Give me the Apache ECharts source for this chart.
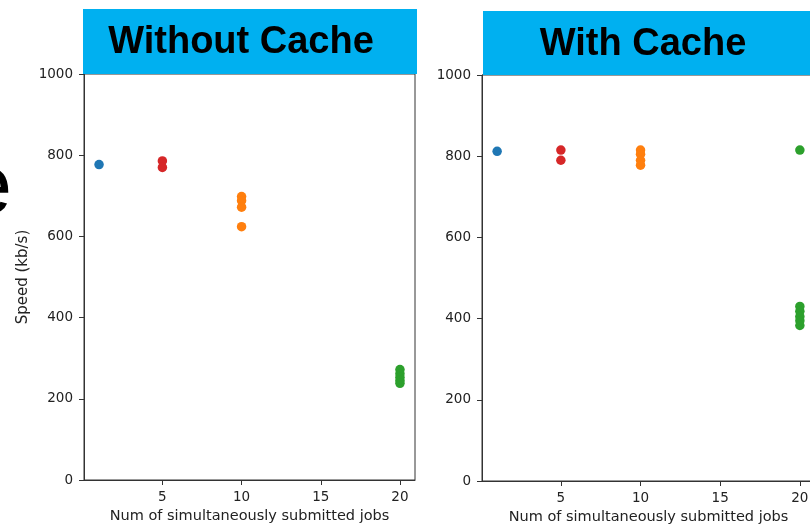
<!DOCTYPE html>
<html>
<head>
<meta charset="utf-8">
<script src="https://cdn.jsdelivr.net/npm/echarts@6/dist/echarts.min.js"></script>
<style>
  html, body { margin: 0; padding: 0; background: #fff; }
  #chart { width: 810px; height: 527px; }
</style>
</head>
<body>
<div id="chart"></div>
<script>
// speeds (kb/s) per number of simultaneously submitted jobs
const noCache1 = [777];
const noCache5 = [786, 770];
const noCache10 = [698, 688, 672, 624];
const noCache20 = [272, 262, 253, 245, 238];
const cache1 = [812];
const cache5 = [815, 790];
const cache10 = [815, 805, 790, 778];
const cache20 = [815, 430, 418, 405, 395, 383];

const xTicks = [5, 10, 15, 20];
const colors = ["#1f77b4", "#d62728", "#ff7f0e", "#2ca02c"];
const panelTitles = ["Without Cache", "With Cache"];

var chart = echarts.init(document.getElementById("chart"));

function pts(x, arr) {
  return arr.map(v => [x, v]);
}

function xAxisOf(idx) {
  return {
    type: "value",
    gridIndex: idx,
    min: 0.05,
    max: 20.95,
    name: "Num of simultaneously submitted jobs",
    nameLocation: "middle",
    nameGap: 29,
    nameTextStyle: { color: "#222", fontSize: 14.5, fontFamily: "DejaVu Sans" },
    axisLine: { show: true, onZero: false, lineStyle: { color: "#333", width: 1 } },
    axisTick: { show: true, customValues: xTicks, length: 5, lineStyle: { color: "#333" } },
    axisLabel: { customValues: xTicks, color: "#222", fontSize: 13.5, fontFamily: "DejaVu Sans", margin: 10 },
    splitLine: { show: false }
  };
}

function yAxisOf(idx, withName) {
  return {
    type: "value",
    gridIndex: idx,
    min: 0,
    max: 1000,
    interval: 200,
    name: withName ? "Speed (kb/s)" : "",
    nameLocation: "middle",
    nameGap: 53,
    nameTextStyle: { color: "#222", fontSize: 15, fontFamily: "DejaVu Sans" },
    axisLine: { show: true, onZero: false, lineStyle: { color: "#333", width: 1 } },
    axisTick: { show: true, length: 5, lineStyle: { color: "#333" } },
    axisLabel: { color: "#222", fontSize: 13.5, fontFamily: "DejaVu Sans", margin: 11,
      formatter: v => String(v) },
    splitLine: { show: false }
  };
}

function scatter(idx, data, color) {
  return {
    type: "scatter",
    xAxisIndex: idx,
    yAxisIndex: idx,
    symbolSize: 9.5,
    itemStyle: { color: color, opacity: 1 },
    data: data
  };
}

let option = {
  animation: false,
  grid: [
    { left: 84, top: 74, width: 331, height: 406, show: true, borderColor: "#333", borderWidth: 1, outerBoundsMode: "none" },
    { left: 482, top: 75, width: 333, height: 406, show: true, borderColor: "#333", borderWidth: 1, outerBoundsMode: "none" }
  ],
  xAxis: [xAxisOf(0), xAxisOf(1)],
  yAxis: [yAxisOf(0, true), yAxisOf(1, false)],
  series: [
    scatter(0, pts(1, noCache1), colors[0]),
    scatter(0, pts(5, noCache5), colors[1]),
    scatter(0, pts(10, noCache10), colors[2]),
    scatter(0, pts(20, noCache20), colors[3]),
    scatter(1, pts(1, cache1), colors[0]),
    scatter(1, pts(5, cache5), colors[1]),
    scatter(1, pts(10, cache10), colors[2]),
    scatter(1, pts(20, cache20), colors[3])
  ],
  graphic: [
    { type: "rect", shape: { x: 83, y: 9, width: 334, height: 65 }, style: { fill: "#00b0f0" }, z: 10 },
    { type: "rect", shape: { x: 483, y: 11, width: 330, height: 64 }, style: { fill: "#00b0f0" }, z: 10 },
    {
      type: "text", z: 11,
      style: { text: panelTitles[0], x: 241, y: 43, textAlign: "center", textVerticalAlign: "middle",
        fill: "#000", font: "bold 38px 'Liberation Sans'" }
    },
    {
      type: "text", z: 11,
      style: { text: panelTitles[1], x: 643, y: 45, textAlign: "center", textVerticalAlign: "middle",
        fill: "#000", font: "bold 38px 'Liberation Sans'" }
    },
    {
      type: "text", z: 11,
      style: { text: "e", x: 12, y: 190, textAlign: "right", textVerticalAlign: "middle",
        fill: "#000", font: "normal 84px 'Liberation Sans'" }
    }
  ]
};

chart.setOption(option);
</script>
</body>
</html>
